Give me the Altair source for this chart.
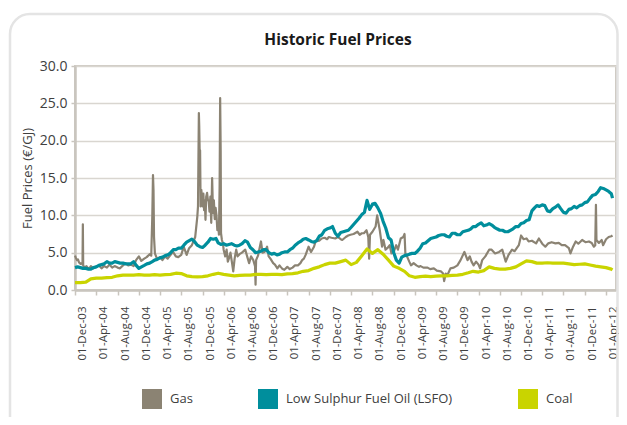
import altair as alt
import pandas as pd

series_names = ["Gas", "Low Sulphur Fuel Oil (LSFO)", "Coal"]
series_colors = ["#8b8373", "#008e9c", "#c9d400"]
chart_title = ["Historic Fuel Prices"]

tick_dates = [
    (2003, 12), (2004, 4), (2004, 8), (2004, 12), (2005, 4), (2005, 8), (2005, 12),
    (2006, 4), (2006, 8), (2006, 12), (2007, 4), (2007, 8), (2007, 12),
    (2008, 4), (2008, 8), (2008, 12), (2009, 4), (2009, 8), (2009, 12),
    (2010, 4), (2010, 8), (2010, 12), (2011, 4), (2011, 8), (2011, 12), (2012, 4),
]
y_ticks = [0, 5, 10, 15, 20, 25, 30]

gas_dates = [
    "2003-12-01", "2003-12-06", "2003-12-12", "2003-12-18", "2003-12-24", "2004-01-02",
    "2004-01-09", "2004-01-13", "2004-01-15", "2004-01-17", "2004-01-24", "2004-02-05",
    "2004-02-18", "2004-03-01", "2004-03-15", "2004-04-01", "2004-04-15", "2004-05-01",
    "2004-05-15", "2004-06-01", "2004-06-15", "2004-07-01", "2004-07-15", "2004-08-01",
    "2004-08-15", "2004-09-01", "2004-09-15", "2004-10-01", "2004-10-15", "2004-11-01",
    "2004-11-15", "2004-12-01", "2004-12-15", "2005-01-01", "2005-01-15", "2005-02-01",
    "2005-02-10", "2005-02-16", "2005-02-20", "2005-02-23", "2005-02-26", "2005-03-03",
    "2005-03-15", "2005-04-01", "2005-04-15", "2005-05-01", "2005-05-15", "2005-06-01",
    "2005-06-15", "2005-07-01", "2005-07-15", "2005-08-01", "2005-08-15", "2005-09-01",
    "2005-09-15", "2005-10-01", "2005-10-20", "2005-11-01", "2005-11-05", "2005-11-10",
    "2005-11-12", "2005-11-15", "2005-11-17", "2005-11-20", "2005-11-24", "2005-11-28",
    "2005-12-02", "2005-12-06", "2005-12-10", "2005-12-14", "2005-12-18", "2005-12-22",
    "2005-12-27", "2006-01-01", "2006-01-05", "2006-01-10", "2006-01-15", "2006-01-20",
    "2006-01-25", "2006-01-30", "2006-02-04", "2006-02-09", "2006-02-14", "2006-02-19",
    "2006-02-24", "2006-03-01", "2006-03-05", "2006-03-09", "2006-03-12", "2006-03-15",
    "2006-03-17", "2006-03-22", "2006-03-28", "2006-04-01", "2006-04-10", "2006-04-18",
    "2006-04-25", "2006-05-01", "2006-05-10", "2006-05-18", "2006-05-26", "2006-06-03",
    "2006-06-12", "2006-06-20", "2006-07-01", "2006-07-15", "2006-08-03", "2006-08-15",
    "2006-08-25", "2006-09-05", "2006-09-18", "2006-09-28", "2006-10-01", "2006-10-04",
    "2006-10-15", "2006-11-01", "2006-11-10", "2006-11-21", "2006-12-06", "2006-12-15",
    "2006-12-25", "2007-01-10", "2007-01-20", "2007-02-03", "2007-02-15", "2007-02-22",
    "2007-03-05", "2007-03-15", "2007-04-01", "2007-04-15", "2007-05-01", "2007-05-15",
    "2007-06-01", "2007-06-15", "2007-06-25", "2007-07-05", "2007-07-15", "2007-08-01",
    "2007-08-15", "2007-09-01", "2007-09-10", "2007-10-01", "2007-10-15", "2007-11-01",
    "2007-11-15", "2007-11-25", "2007-12-10", "2008-01-01", "2008-01-15", "2008-02-01",
    "2008-02-10", "2008-03-01", "2008-03-15", "2008-03-28", "2008-04-15", "2008-05-07",
    "2008-05-20", "2008-06-01", "2008-06-13", "2008-06-28", "2008-07-08", "2008-07-13",
    "2008-07-18", "2008-08-01", "2008-08-19", "2008-08-28", "2008-09-05", "2008-09-12",
    "2008-09-25", "2008-10-03", "2008-10-15", "2008-10-25", "2008-11-08", "2008-11-18",
    "2008-12-01", "2008-12-15", "2008-12-25", "2009-01-10", "2009-01-25", "2009-02-01",
    "2009-02-06", "2009-02-15", "2009-02-28", "2009-03-10", "2009-03-25", "2009-04-10",
    "2009-04-25", "2009-05-04", "2009-05-20", "2009-06-13", "2009-06-28", "2009-07-19",
    "2009-08-05", "2009-08-28", "2009-09-10", "2009-09-16", "2009-09-25", "2009-10-05",
    "2009-10-22", "2009-11-10", "2009-12-01", "2009-12-19", "2010-01-10", "2010-01-28",
    "2010-02-10", "2010-02-20", "2010-03-04", "2010-03-18", "2010-04-01", "2010-04-10",
    "2010-04-22", "2010-05-10", "2010-06-01", "2010-06-15", "2010-07-05", "2010-07-28",
    "2010-08-15", "2010-09-04", "2010-09-20", "2010-10-10", "2010-10-25", "2010-11-18",
    "2010-12-01", "2010-12-15", "2011-01-01", "2011-01-13", "2011-02-01", "2011-02-25",
    "2011-03-13", "2011-04-01", "2011-04-19", "2011-05-06", "2011-05-25", "2011-06-16",
    "2011-07-05", "2011-07-22", "2011-08-10", "2011-09-01", "2011-09-10", "2011-09-25",
    "2011-10-10", "2011-10-25", "2011-11-16", "2011-12-05", "2011-12-25", "2012-01-10",
    "2012-01-22", "2012-01-30", "2012-02-03", "2012-02-06", "2012-02-20", "2012-03-07",
    "2012-03-15", "2012-04-01", "2012-04-16", "2012-05-01", "2012-05-08",
]
gas_values = [
    4.6, 4.3, 4.0, 4.1, 3.7, 3.5,
    3.6, 3.4, 8.8, 3.3, 3.0, 3.2,
    2.8, 3.2, 2.9, 3.1, 3.3, 2.9,
    3.2, 3.0, 3.4, 3.0, 3.2, 3.0,
    2.9, 3.3, 3.6, 3.3, 3.4, 3.2,
    4.0, 4.5, 3.9, 4.2, 4.4, 4.8,
    4.6, 9.8, 15.4, 13.4, 7.1, 4.9,
    4.2, 4.4, 4.0, 4.5, 4.2, 4.7,
    5.1, 4.5, 4.4, 4.7, 5.8, 4.7,
    5.6, 6.0, 7.1, 9.8, 11.2, 23.7,
    22.0, 17.9, 18.7, 11.2, 13.4, 12.5,
    11.2, 12.9, 10.7, 12.0, 9.4, 12.5,
    13.0, 12.0, 12.0, 10.5, 12.5, 9.0,
    15.0, 10.3, 12.0, 9.5, 11.0, 10.0,
    8.0, 9.0, 7.4, 14.0, 25.7, 18.7,
    7.6, 6.7, 6.25, 5.4, 4.5, 5.4,
    3.8, 4.2, 5.0, 3.8, 2.5, 4.2,
    5.4, 4.5, 4.8, 5.0, 5.4, 4.4,
    3.6, 4.5, 4.0, 3.2, 0.7, 4.0,
    4.6, 6.5, 5.0, 5.1, 5.8, 4.5,
    4.2, 3.6, 3.4, 2.9, 3.3, 3.1,
    2.8, 2.7, 3.1, 2.8, 3.0, 3.3,
    3.3, 3.6, 4.0, 4.2, 4.7, 5.8,
    5.1, 5.8, 6.5, 6.6, 6.9, 7.0,
    6.8, 7.1, 7.0, 6.9, 7.1, 6.8,
    6.7, 7.1, 7.3, 7.4, 7.5, 7.8,
    7.4, 7.6, 7.6, 8.0, 7.1, 4.2,
    7.4, 7.8, 8.5, 10.0, 8.9, 8.0,
    5.8, 6.7, 5.4, 5.6, 6.0, 4.9,
    5.1, 6.0, 5.4, 6.9, 7.1, 7.5,
    4.7, 4.5, 3.8, 3.3, 3.6, 3.3,
    3.1, 3.2, 3.0, 3.0, 2.8, 2.9,
    2.6, 2.5, 2.2, 1.2, 2.2, 2.0,
    2.9, 3.0, 3.3, 4.0, 5.1, 4.0,
    4.5, 3.8, 3.3, 3.8, 3.4, 2.9,
    4.0, 4.5, 5.4, 5.4, 4.9, 5.1,
    5.4, 3.8, 4.7, 5.4, 5.2, 6.0,
    7.3, 6.8, 6.9, 6.5, 6.6, 6.25,
    6.9, 6.2, 5.8, 6.25, 6.4, 6.25,
    6.3, 6.0, 6.0, 5.6, 4.9, 5.8,
    6.5, 6.2, 6.7, 6.4, 6.5, 6.3,
    5.8, 6.0, 11.4, 6.7, 6.3, 6.7,
    6.0, 6.8, 7.1, 7.2, 7.3,
]

month_starts = [d.strftime("%Y-%m") for d in pd.date_range("2003-12-01", periods=102, freq="MS")]
monthly_dates = [m + "-01" for m in month_starts] + ["2012-05-08"]
half_month_dates = [m + day for m in month_starts for day in ("-01", "-16")][:-1] + ["2012-05-08"]

lsfo_values = [
    3.0, 3.1, 3.0, 2.9, 2.9, 2.8, 2.8, 3.0, 3.1, 3.3,
    3.4, 3.5, 3.8, 3.6, 3.6, 3.8, 3.7, 3.6, 3.6, 3.5,
    3.5, 3.5, 3.8, 3.3, 2.9, 3.1, 3.3, 3.5, 3.6, 3.8,
    4.0, 4.1, 4.3, 4.4, 4.6, 4.7, 5.0, 5.4, 5.4, 5.6,
    5.6, 6.0, 6.4, 6.6, 6.8, 6.5, 6.0, 5.8, 5.7, 6.0,
    6.4, 6.9, 6.8, 6.9, 6.3, 6.1, 6.2, 6.0, 6.1, 6.2,
    6.0, 5.9, 6.0, 6.2, 6.6, 6.4, 5.7, 5.4, 5.0, 5.1,
    5.2, 5.4, 5.4, 5.0, 4.8, 4.9, 4.7, 4.8, 5.0, 5.1,
    5.1, 5.4, 5.6, 6.0, 6.3, 6.5, 6.8, 6.9, 6.7, 6.5,
    6.4, 6.6, 7.2, 7.4, 8.0, 8.2, 8.3, 8.5, 7.6, 7.2,
    7.7, 7.8, 7.9, 8.0, 8.4, 8.8, 9.2, 9.6, 10.1, 10.4,
    12.0, 10.8, 11.5, 11.6, 11.0, 10.3, 9.2, 8.3, 7.0, 6.7,
    5.0, 4.0, 3.6, 4.4, 4.6, 4.7, 4.8, 4.9, 4.9, 5.2,
    5.6, 6.2, 6.3, 6.6, 6.9, 7.0, 7.1, 7.3, 7.4, 7.4,
    7.2, 7.1, 7.6, 7.6, 7.4, 7.4, 7.8, 7.9, 8.0, 8.2,
    8.5, 8.5, 8.8, 9.0, 8.6, 8.7, 8.9, 8.7, 8.4, 8.2,
    8.0, 8.0, 7.8, 7.8, 8.0, 8.2, 8.5, 8.5, 8.9, 9.0,
    9.3, 9.4, 10.6, 11.0, 11.3, 11.2, 11.4, 11.3, 10.6, 10.5,
    10.9, 11.1, 11.4, 10.9, 10.4, 10.3, 10.8, 10.9, 11.2, 11.0,
    11.3, 11.4, 11.7, 11.8, 12.3, 12.7, 12.8, 13.2, 13.7, 13.6,
    13.4, 13.2, 12.9, 12.3,
]

coal_values = [
    1.0, 1.0, 1.05, 1.5, 1.6, 1.6, 1.65, 1.7, 1.9, 2.0,
    2.0, 2.0, 2.05, 2.0, 2.0, 2.05, 2.0, 2.05, 2.1, 2.25,
    2.2, 1.9, 1.8, 1.75, 1.8, 1.9, 2.1, 2.25, 2.1, 2.0,
    1.9, 1.95, 2.0, 2.0, 2.1, 2.1, 2.05, 2.1, 2.1, 2.05,
    2.15, 2.2, 2.3, 2.5, 2.6, 2.9, 3.1, 3.4, 3.6, 3.6,
    3.8, 4.0, 3.4, 3.7, 4.6, 5.5, 4.9, 5.4, 4.8, 4.0,
    3.2, 2.9, 2.5, 1.9, 1.7, 1.8, 1.85, 1.8, 1.85, 1.9,
    1.9, 1.95, 2.0, 2.1, 2.3, 2.5, 2.4, 2.6, 3.1, 2.9,
    2.8, 2.8, 2.9, 3.1, 3.5, 3.9, 3.8, 3.6, 3.6, 3.65,
    3.6, 3.6, 3.6, 3.5, 3.4, 3.45, 3.5, 3.35, 3.2, 3.1,
    3.0, 2.8, 2.7,
]

frames = []
for name, dates, vals in [
    (series_names[0], gas_dates, gas_values),
    (series_names[1], half_month_dates, lsfo_values),
    (series_names[2], monthly_dates, coal_values),
]:
    frames.append(pd.DataFrame({"date": pd.to_datetime(dates), "value": vals, "series": name}))
df = pd.concat(frames, ignore_index=True)

FONT = "Open Sans"
AXIS_GRAY = "#c9c5be"
TEXT = "#404040"

x_enc = alt.X(
    "date:T",
    scale=alt.Scale(domain=[alt.DateTime(year=2003, month=12, date=1),
                            alt.DateTime(year=2012, month=5, date=28)]),
    axis=alt.Axis(
        values=[alt.DateTime(year=y, month=m, date=1) for y, m in tick_dates],
        format="%d-%b-%y", labelAngle=-90, labelFontSize=11.5, labelFont=FONT,
        labelColor=TEXT, labelOffset=7.5, labelPadding=11, tickSize=5,
        tickColor=AXIS_GRAY, tickWidth=1.5, domainColor=AXIS_GRAY, domainWidth=2.5,
        grid=False, title=None, labelOverlap=False,
    ),
)
y_enc = alt.Y(
    "value:Q",
    scale=alt.Scale(domain=[0, 30], nice=False),
    axis=alt.Axis(
        values=y_ticks, format=".1f", labelFontSize=14, labelFont=FONT, labelColor=TEXT,
        tickSize=4, tickColor=AXIS_GRAY, tickWidth=1.5, labelPadding=4,
        domainColor=AXIS_GRAY, domainWidth=2.5, gridColor="#d9d6d0", gridWidth=1.5,
        title="Fuel Prices (€/GJ)", titleFont=FONT, titleFontSize=13,
        titleFontWeight="normal", titleColor=TEXT, titleX=-48, titleY=112,
        titleAngle=-90, titleAlign="center", titleBaseline="middle",
    ),
)
color_enc = alt.Color(
    "series:N",
    scale=alt.Scale(domain=series_names, range=series_colors),
    legend=alt.Legend(
        title=None, orient="none", legendX=67, legendY=323, direction="horizontal",
        symbolType="square", symbolSize=4, symbolStrokeWidth=18, symbolOpacity=1,
        labelFont=FONT, labelFontSize=13, labelColor=TEXT, labelOffset=8,
        columnPadding=38, labelLimit=300,
    ),
)

base = alt.Chart(df)
layers = []
for name, w in zip(series_names, [2.2, 3.2, 3.2]):
    layers.append(
        base.transform_filter(alt.datum.series == name)
        .mark_line(strokeWidth=w, strokeJoin="round")
        .encode(x=x_enc, y=y_enc, color=color_enc)
    )

frame = alt.Chart(pd.DataFrame({"a": [0]})).mark_rect(
    cornerRadius=20, fillOpacity=0, stroke="#e4e4e4", strokeWidth=2.5
).encode(x=alt.value(-65), x2=alt.value(542.5), y=alt.value(-52), y2=alt.value(420))

title_text = alt.Chart(pd.DataFrame({"t": chart_title})).mark_text(
    font=FONT, fontSize=15.5, fontWeight="bold", color="#1a1a1a", baseline="middle", align="center"
).encode(text="t:N", x=alt.value(263), y=alt.value(-26))

chart = alt.layer(frame, title_text, *layers).properties(
    width=541, height=224,
    padding={"left": 67, "top": 58, "right": 3, "bottom": 127},
    autosize=alt.AutoSizeParams(type="none"),
).configure_view(stroke="#cfcbc4", strokeWidth=2)

chart.save("out.html", embed_options={"renderer": "svg", "actions": False})
